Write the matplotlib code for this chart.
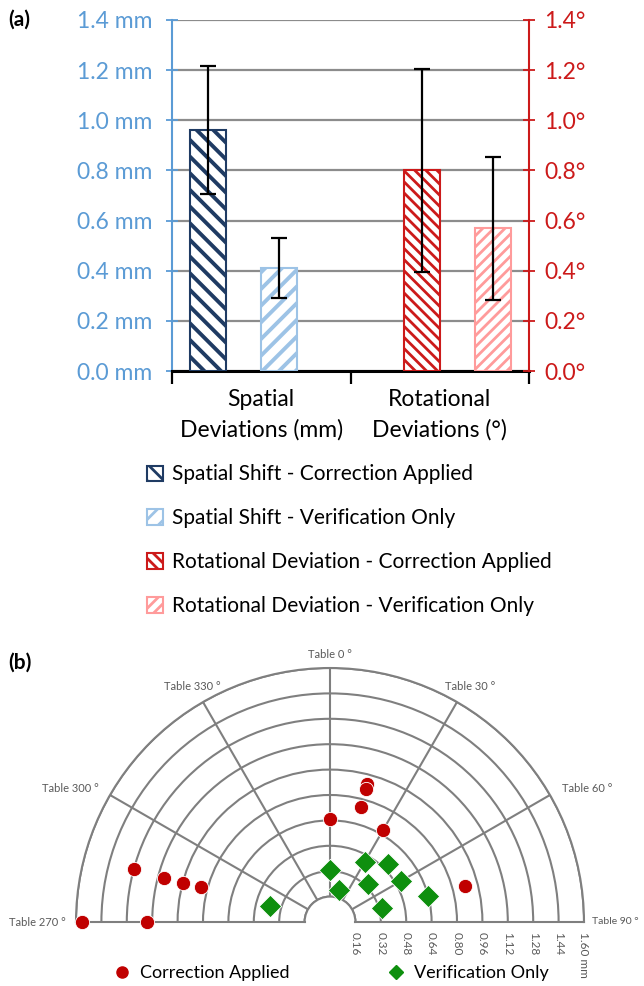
import numpy as np
import matplotlib as mpl

mpl.use("Agg")
import matplotlib.pyplot as plt
from matplotlib.lines import Line2D
from matplotlib.transforms import offset_copy

plt.rcParams["font.family"] = ["Lato", "DejaVu Sans"]
plt.rcParams["hatch.linewidth"] = 2.0

# ---- panel (a) data ----
categories = ["Spatial\nDeviations (mm)", "Rotational\nDeviations (°)"]
bar_labels = [
    "Spatial Shift - Correction Applied",
    "Spatial Shift - Verification Only",
    "Rotational Deviation - Correction Applied",
    "Rotational Deviation - Verification Only",
]
spatial_mean = [0.96, 0.41]   # correction, verification (mm)
spatial_sd = [0.255, 0.12]
rot_mean = [0.80, 0.57]       # correction, verification (deg)
rot_sd = [0.405, 0.285]
yticks = [0.0, 0.2, 0.4, 0.6, 0.8, 1.0, 1.2, 1.4]
left_labels = ["0.0 mm", "0.2 mm", "0.4 mm", "0.6 mm", "0.8 mm", "1.0 mm", "1.2 mm", "1.4 mm"]
right_labels = ["0.0°", "0.2°", "0.4°", "0.6°", "0.8°", "1.0°", "1.2°", "1.4°"]

# ---- panel (b) data ----
corr_table = [15, 15, 15, 0, 30, 285, 285, 285, 285, 270, 270, 75]
corr_dev = [0.90, 0.87, 0.75, 0.65, 0.67, 1.28, 1.08, 0.96, 0.84, 1.56, 1.15, 0.88]
ver_table = [0, 30, 45, 15, 45, 60, 75, 75, 285]
ver_dev = [0.33, 0.44, 0.52, 0.21, 0.34, 0.52, 0.64, 0.34, 0.39]
ring_ticks = [0.16, 0.32, 0.48, 0.64, 0.80, 0.96, 1.12, 1.28, 1.44, 1.60]
ring_labels = ["0.16", "0.32", "0.48", "0.64", "0.80", "0.96", "1.12", "1.28", "1.44", "1.60 mm"]
table_angles = [270, 300, 330, 0, 30, 60, 90]
table_labels = ["Table 270 °", "Table 300 °", "Table 330 °", "Table 0 °",
                "Table 30 °", "Table 60 °", "Table 90 °"]

NAVY = "#1f3b63"
LBLUE = "#9dc3e6"
RED = "#cc1a1a"
LRED = "#ff9b9b"
BLUE_TXT = "#5b9bd5"
GRID = "#8c8c8c"
RING = "#7f7f7f"

fig = plt.figure(figsize=(6.44, 9.86), dpi=100)
W, H = 644, 986

# ================= (a) =================
ax = fig.add_axes([172 / W, 1 - 371 / H, (529 - 172) / W, (371 - 20) / H])
ax2 = ax.twinx()
x = np.arange(len(categories))
bw = 0.2
ekw = dict(ecolor="black", elinewidth=1.6, capsize=6, capthick=1.6)

with plt.rc_context({"hatch.linewidth": 2.8}):
    b1 = ax.bar(x[0] - 0.3, spatial_mean[0], bw, yerr=spatial_sd[0], color="white",
                edgecolor=NAVY, hatch="\\\\", lw=1.5, error_kw=ekw, zorder=3)
    b2 = ax.bar(x[0] + 0.1, spatial_mean[1], bw, yerr=spatial_sd[1], color="white",
                edgecolor=LBLUE, hatch="//", lw=1.5, error_kw=ekw, zorder=3)
b3 = ax2.bar(x[1] - 0.1, rot_mean[0], bw, yerr=rot_sd[0], color="white",
             edgecolor=RED, hatch="\\\\\\", lw=1.5, error_kw=ekw, zorder=3)
b4 = ax2.bar(x[1] + 0.3, rot_mean[1], bw, yerr=rot_sd[1], color="white",
             edgecolor=LRED, hatch="///", lw=1.5, error_kw=ekw, zorder=3)

for a in (ax, ax2):
    a.set_ylim(0, 1.4)
    a.set_yticks(yticks)
ax.set_xlim(-0.5, 1.5)
ax.set_yticklabels(left_labels)
ax2.set_yticklabels(right_labels)
ax.set_axisbelow(True)
ax.yaxis.grid(True, color=GRID, lw=1.6)

ax.set_xticks([-0.5, 0.5, 1.5])
ax.set_xticklabels([])
ax.set_xticks(x, minor=True)
ax.set_xticklabels(categories, minor=True, fontsize=16.5, linespacing=1.5)
ax.tick_params(axis="x", which="major", length=9, width=1.6, color="black")
ax.tick_params(axis="x", which="minor", length=0, pad=13)

ax.tick_params(axis="y", direction="inout", length=8, width=1.3, color=BLUE_TXT,
               labelcolor=BLUE_TXT, labelsize=16.5, pad=10)
ax2.tick_params(axis="y", direction="inout", length=8, width=1.3, color=RED,
                labelcolor=RED, labelsize=16.5, pad=7)

for name in ("top", "right"):
    ax.spines[name].set_visible(False)
for name in ("top", "left", "bottom"):
    ax2.spines[name].set_visible(False)
ax.spines["left"].set_color(BLUE_TXT)
ax.spines["left"].set_linewidth(1.5)
ax.spines["bottom"].set_linewidth(2.2)
ax2.spines["right"].set_color(RED)
ax2.spines["right"].set_linewidth(1.5)

fig.legend([b1, b2, b3, b4], bar_labels, loc="upper left",
           bbox_to_anchor=(137 / W, 1 - 454 / H), frameon=False, fontsize=15,
           handlelength=0.75, handleheight=0.75, handletextpad=0.45, labelspacing=1.15,
           borderpad=0)

fig.text(8 / W, 1 - 20 / H, "(a)", fontsize=15, fontweight="bold", va="center")

# ================= (b) =================
R = 254
cx, cy = 330, 922
S = 2 * R
box_cy = cy - R / 2
pax = fig.add_axes([(cx - R) / W, 1 - (box_cy + R) / H, S / W, S / H], projection="polar")
pax.set_theta_zero_location("N")
pax.set_theta_direction(-1)
pax.set_thetamin(-90)
pax.set_thetamax(90)
pax.set_rlim(0.16, 1.6)
pax.set_rorigin(0)
pax.set_yticks(ring_ticks)
pax.set_xticks(np.deg2rad([-60, -30, 0, 30, 60]))
pax.xaxis.set_ticklabels([])
pax.yaxis.set_ticklabels([])
pax.grid(True, color=RING, lw=1.5)
pax.tick_params(length=0)
for sp in pax.spines.values():
    sp.set_color(RING)
    sp.set_linewidth(1.5)


def wrap(deg):
    return np.deg2rad((np.asarray(deg) + 180) % 360 - 180)


pax.scatter(wrap(corr_table), corr_dev, s=105, marker="o", color="#c00000",
            edgecolors="white", linewidths=0.6, zorder=4, clip_on=False)
pax.scatter(wrap(ver_table), ver_dev, s=130, marker="D", color="#0e8f0e",
            edgecolors="white", linewidths=0.6, zorder=4, clip_on=False)

# angle labels around the outer ring
lab_style = [(-10, 0, "right"), (-11, 6, "right"), (-11, 16, "center"), (0, 14, "center"),
             (13, 16, "center"), (12, 6, "left"), (8, 0, "left")]
for ang, lab, (dx, dy, ha) in zip(table_angles, table_labels, lab_style):
    tr = offset_copy(pax.transData, fig=fig, x=dx, y=dy, units="dots")
    pax.text(wrap(ang), 1.6, lab, transform=tr, ha=ha, va="center",
             fontsize=7.5 if ang == 90 else 8, color="#595959", clip_on=False)

# radial labels under the right baseline
tr = offset_copy(pax.transData, fig=fig, x=0, y=-10, units="dots")
for r, lab in zip(ring_ticks, ring_labels):
    pax.text(np.pi / 2, r, lab, transform=tr, rotation=-90, ha="center", va="top",
             fontsize=8.5, color="#595959", clip_on=False)

handles = [Line2D([], [], ls="none", marker="o", ms=8, color="#c00000"),
           Line2D([], [], ls="none", marker="D", ms=7, color="#0e8f0e")]
fig.legend(handles, ["Correction Applied", "Verification Only"], loc="center left",
           bbox_to_anchor=(106 / W, 1 - 973 / H), frameon=False, fontsize=13, ncol=2,
           handlelength=0.8, handletextpad=0.6, columnspacing=5.5, borderpad=0)

fig.text(8 / W, 1 - 663 / H, "(b)", fontsize=15, fontweight="bold", va="center")

fig.savefig("out.png", dpi=100)
